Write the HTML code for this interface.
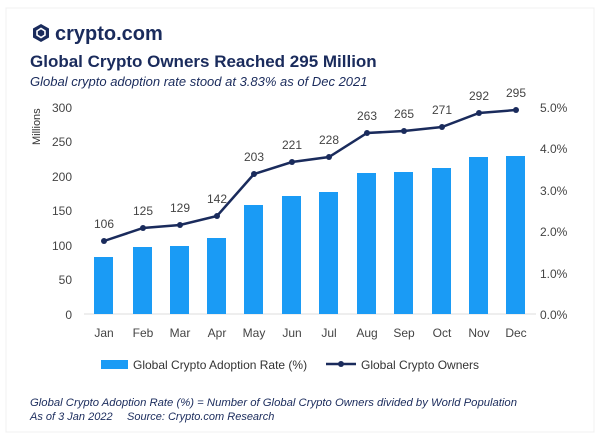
<!DOCTYPE html>
<html><head><style>
body{margin:0;width:600px;height:437px;background:#fff;overflow:hidden;font-family:"Liberation Sans",sans-serif;}
</style></head><body>
<svg width="600" height="437" xmlns="http://www.w3.org/2000/svg" font-family="Liberation Sans, sans-serif">
<rect x="0" y="0" width="600" height="437" fill="#fff"/>
<rect x="6" y="8" width="588" height="424" fill="#fff" stroke="#f0f0f0"/>
<g transform="translate(41,33)">
<polygon points="0,-9 8,-4.5 8,4.5 0,9 -8,4.5 -8,-4.5" fill="#1a2b5c"/>
<path d="M-4,-2 L0,-4.5 L4,-2 L4,2 L0,4.5 L-4,2 Z" fill="none" stroke="#fff" stroke-width="1.6"/>
</g>
<text x="55" y="40" font-size="20" fill="#1a2b5c" font-weight="bold">crypto.com</text>
<text x="30" y="67" font-size="17" fill="#1a2b5c" font-weight="bold">Global Crypto Owners Reached 295 Million</text>
<text x="30" y="86" font-size="13" fill="#1a2b5c" font-style="italic">Global crypto adoption rate stood at 3.83% as of Dec 2021</text>
<text transform="translate(40,145) rotate(-90)" font-size="11" fill="#333">Millions</text>
<g font-size="12" fill="#444" text-anchor="end">
<text x="72" y="112">300</text><text x="72" y="146">250</text><text x="72" y="181">200</text><text x="72" y="215">150</text><text x="72" y="250">100</text><text x="72" y="284">50</text><text x="72" y="319">0</text>
</g>
<g font-size="12" fill="#444" text-anchor="start">
<text x="540" y="112">5.0%</text><text x="540" y="153">4.0%</text><text x="540" y="195">3.0%</text><text x="540" y="236">2.0%</text><text x="540" y="278">1.0%</text><text x="540" y="319">0.0%</text>
</g>
<line x1="84" y1="314" x2="536" y2="314" stroke="#ddd"/>
<g fill="#1a9bf5">
<rect x="94" y="257" width="19" height="57"/><rect x="133" y="247" width="19" height="67"/><rect x="170" y="246" width="19" height="68"/><rect x="207" y="238" width="19" height="76"/><rect x="244" y="205" width="19" height="109"/><rect x="282" y="196" width="19" height="118"/><rect x="319" y="192" width="19" height="122"/><rect x="357" y="173" width="19" height="141"/><rect x="394" y="172" width="19" height="142"/><rect x="432" y="168" width="19" height="146"/><rect x="469" y="157" width="19" height="157"/><rect x="506" y="156" width="19" height="158"/>
</g>
<polyline fill="none" stroke="#1a2b5c" stroke-width="2.5" points="104,241 143,228 180,225 217,216 254,174 292,162 329,157 367,133 404,131 442,127 479,113 516,110"/>
<g fill="#1a2b5c">
<circle cx="104" cy="241" r="3"/><circle cx="143" cy="228" r="3"/><circle cx="180" cy="225" r="3"/><circle cx="217" cy="216" r="3"/><circle cx="254" cy="174" r="3"/><circle cx="292" cy="162" r="3"/><circle cx="329" cy="157" r="3"/><circle cx="367" cy="133" r="3"/><circle cx="404" cy="131" r="3"/><circle cx="442" cy="127" r="3"/><circle cx="479" cy="113" r="3"/><circle cx="516" cy="110" r="3"/>
</g>
<g font-size="12" fill="#444" text-anchor="middle">
<text x="104" y="228">106</text><text x="143" y="215">125</text><text x="180" y="212">129</text><text x="217" y="203">142</text><text x="254" y="161">203</text><text x="292" y="149">221</text><text x="329" y="144">228</text><text x="367" y="120">263</text><text x="404" y="118">265</text><text x="442" y="114">271</text><text x="479" y="100">292</text><text x="516" y="97">295</text>
</g>
<g font-size="12" fill="#444" text-anchor="middle">
<text x="104" y="337">Jan</text><text x="143" y="337">Feb</text><text x="180" y="337">Mar</text><text x="217" y="337">Apr</text><text x="254" y="337">May</text><text x="292" y="337">Jun</text><text x="329" y="337">Jul</text><text x="367" y="337">Aug</text><text x="404" y="337">Sep</text><text x="442" y="337">Oct</text><text x="479" y="337">Nov</text><text x="516" y="337">Dec</text>
</g>
<rect x="101" y="360" width="27" height="9" fill="#1a9bf5"/>
<text x="133" y="369" font-size="12" fill="#333">Global Crypto Adoption Rate (%)</text>
<line x1="326" y1="364" x2="356" y2="364" stroke="#1a2b5c" stroke-width="2.5"/>
<circle cx="341" cy="364" r="3" fill="#1a2b5c"/>
<text x="361" y="369" font-size="12" fill="#333">Global Crypto Owners</text>
<text x="30" y="406" font-size="11" fill="#1a2b5c" font-style="italic" textLength="487" lengthAdjust="spacingAndGlyphs">Global Crypto Adoption Rate (%) = Number of Global Crypto Owners divided by World Population</text>
<text x="30" y="420" font-size="11" fill="#1a2b5c" font-style="italic">As of 3 Jan 2022</text>
<text x="127" y="420" font-size="11" fill="#1a2b5c" font-style="italic">Source: Crypto.com Research</text>
</svg>
</body></html>
